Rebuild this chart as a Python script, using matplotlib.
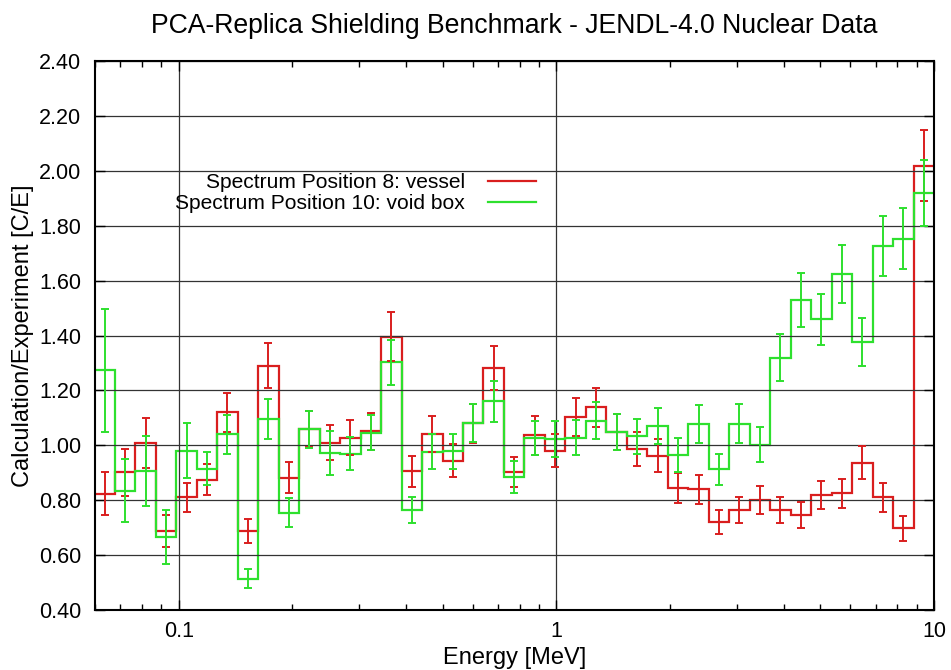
import numpy as np
import matplotlib
matplotlib.use('Agg')
import matplotlib.pyplot as plt
from matplotlib.lines import Line2D
from matplotlib.ticker import NullFormatter

plt.rcParams['font.family'] = ['Liberation Sans', 'DejaVu Sans']

# energy group boundaries [MeV]
edges = [0.05977, 0.06772, 0.07672, 0.08691, 0.09849, 0.1116, 0.1264, 0.1432,
         0.1623, 0.1839, 0.2084, 0.2360, 0.2675, 0.3031, 0.3434, 0.3890,
         0.4407, 0.4994, 0.5658, 0.6411, 0.7264, 0.8230, 0.9324, 1.0563,
         1.1968, 1.3561, 1.5365, 1.7412, 1.9724, 2.2348, 2.5321, 2.8690,
         3.2509, 3.6832, 4.1735, 4.7284, 5.3578, 6.0700, 6.8770, 7.7920,
         8.8286, 10.0]

# C/E, position 8 (vessel)
ce_vessel = [0.824, 0.902, 1.008, 0.687, 0.811, 0.875, 1.120, 0.688, 1.290, 0.882,
             1.060, 1.010, 1.027, 1.051, 1.396, 0.905, 1.042, 0.943, 1.080, 1.280,
             0.903, 1.036, 0.981, 1.104, 1.139, 1.048, 0.987, 0.962, 0.844, 0.839,
             0.721, 0.765, 0.800, 0.765, 0.746, 0.818, 0.825, 0.936, 0.810, 0.697,
             2.019]
err_vessel = [0.077, 0.085, 0.090, 0.059, 0.053, 0.056, 0.071, 0.044, 0.081, 0.056,
              0.065, 0.065, 0.064, 0.067, 0.088, 0.056, 0.065, 0.060, 0.070, 0.080,
              0.056, 0.070, 0.061, 0.070, 0.071, 0.065, 0.062, 0.060, 0.054, 0.052,
              0.045, 0.048, 0.050, 0.047, 0.046, 0.051, 0.053, 0.060, 0.052, 0.045,
              0.130]

# C/E, position 10 (void box)
ce_void = [1.273, 0.834, 0.907, 0.667, 0.981, 0.915, 1.040, 0.514, 1.095, 0.755,
           1.058, 0.972, 0.970, 1.046, 1.302, 0.764, 0.977, 0.978, 1.082, 1.160,
           0.885, 1.027, 1.023, 1.028, 1.090, 1.048, 1.033, 1.069, 0.966, 1.078,
           0.912, 1.079, 1.002, 1.319, 1.529, 1.459, 1.623, 1.375, 1.725, 1.752,
           1.919]
err_void = [0.225, 0.115, 0.127, 0.099, 0.101, 0.061, 0.070, 0.035, 0.072, 0.052,
            0.068, 0.081, 0.060, 0.064, 0.082, 0.048, 0.063, 0.064, 0.070, 0.074,
            0.057, 0.061, 0.064, 0.063, 0.068, 0.066, 0.064, 0.066, 0.062, 0.070,
            0.057, 0.071, 0.063, 0.085, 0.097, 0.094, 0.105, 0.087, 0.110, 0.111,
            0.121]

labels = ['Spectrum Position 8: vessel', 'Spectrum Position 10: void box']
colors = ['#d91e1e', '#2ee02e']

e = np.array(edges)
mid = np.sqrt(e[:-1] * e[1:])

fig = plt.figure(figsize=(9.51, 6.70), dpi=100)
ax = fig.add_axes([95/951, 1-610/670, 839/951, 549/670])

for vals, errs, c in [(ce_vessel, err_vessel, colors[0]), (ce_void, err_void, colors[1])]:
    ax.stairs(vals, edges, baseline=None, color=c, lw=1.6)
    ax.errorbar(mid, vals, yerr=errs, fmt='none', ecolor=c, elinewidth=1.4,
                capsize=2.8, capthick=1.4)

ax.set_xscale('log')
ax.set_xlim(0.06, 10)
ax.set_ylim(0.4, 2.4)
ax.set_xticks([0.1, 1, 10])
ax.set_xticklabels(['0.1', '1', '10'])
ax.xaxis.set_minor_formatter(NullFormatter())
ax.set_yticks(np.arange(0.4, 2.41, 0.2))
ax.set_yticklabels(['%.2f' % v for v in np.arange(0.4, 2.41, 0.2)])

ax.grid(True, which='major', color='0.2', lw=0.9)
ax.tick_params(which='both', direction='in', top=True, right=True, labelsize=15.5)
ax.tick_params(which='major', length=7, width=1)
ax.tick_params(which='minor', length=4, width=1)
ax.tick_params(axis='x', pad=8)
ax.tick_params(axis='y', pad=10)
for s in ax.spines.values():
    s.set_linewidth(1.5)

ax.set_xlabel('Energy [MeV]', fontsize=17)
ax.set_ylabel('Calculation/Experiment [C/E]', fontsize=17)
ax.xaxis.set_label_coords(0.5, -0.068)
ax.yaxis.set_label_coords(-0.073, 0.5)
ax.set_title('PCA-Replica Shielding Benchmark - JENDL-4.0 Nuclear Data', fontsize=19.2, pad=20)

handles = [Line2D([], [], color=c, lw=1.6) for c in colors]
fig.legend(handles, labels, loc='upper right', bbox_to_anchor=(536/951, 1-173/670),
           frameon=False, markerfirst=False, fontsize=15.1, handlelength=2.3,
           handletextpad=1.1, labelspacing=0.1, borderpad=0, borderaxespad=0)

fig.savefig('out.png', dpi=100)
